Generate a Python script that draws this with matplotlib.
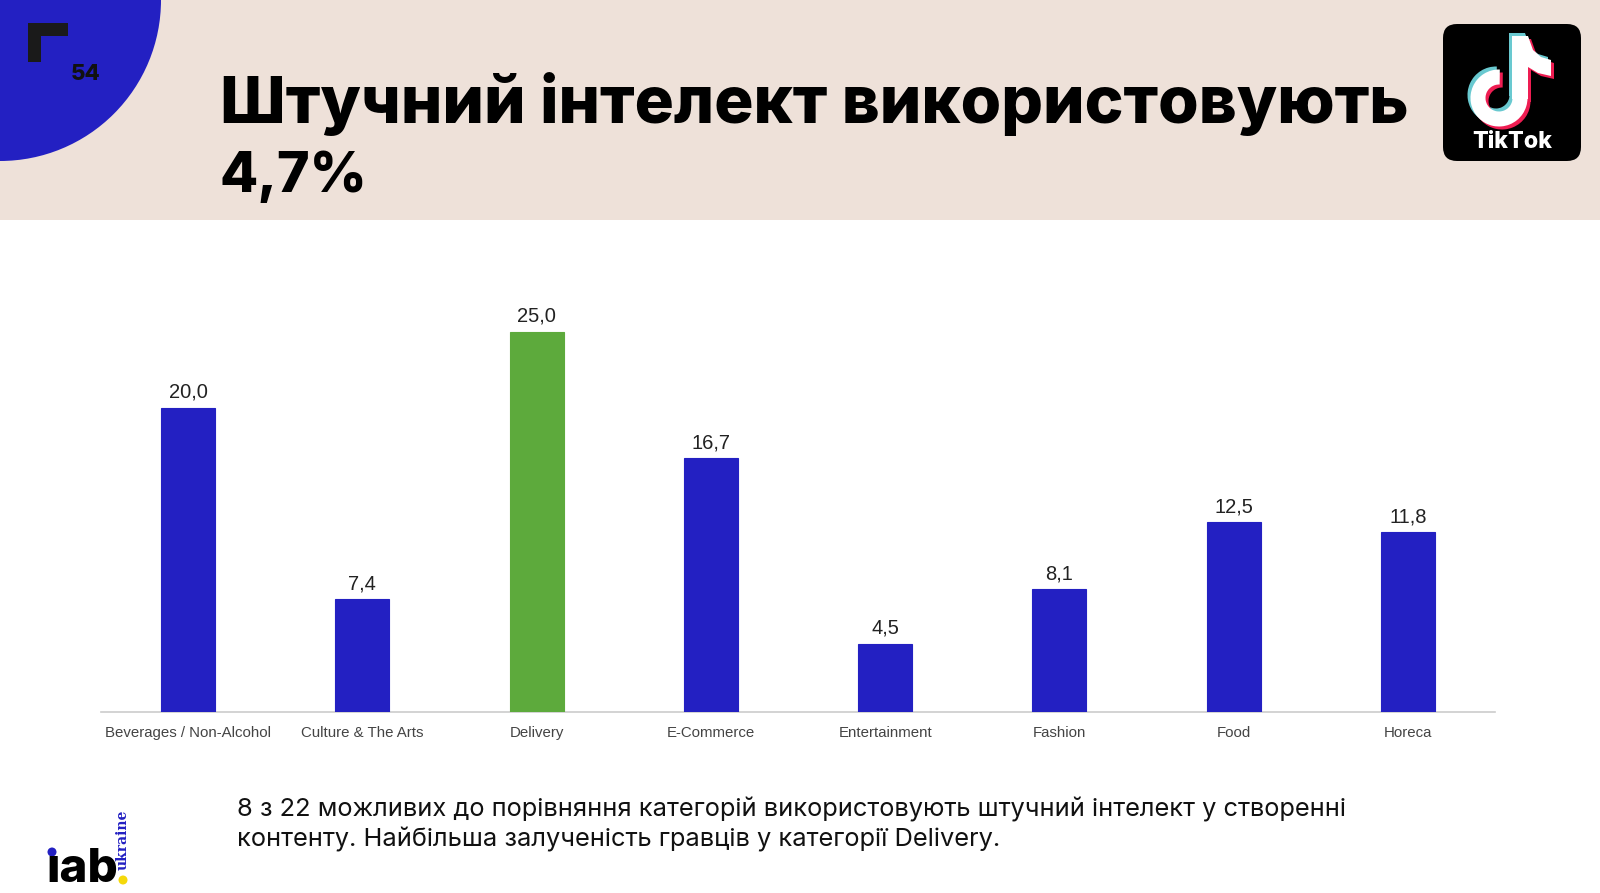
import matplotlib
matplotlib.use("Agg")
import matplotlib.pyplot as plt
from matplotlib.patches import Rectangle, Circle, FancyBboxPatch, Arc, Polygon
import numpy as np

categories = ["Beverages / Non-Alcohol", "Culture & The Arts", "Delivery", "E-Commerce",
              "Entertainment", "Fashion", "Food", "Horeca"]
values = [20.0, 7.4, 25.0, 16.7, 4.5, 8.1, 12.5, 11.8]
highlight = "Delivery"

title_line1 = "Штучний інтелект використовують"
title_line2 = "4,7%"
page_num = "54"
footer_lines = ["8 з 22 можливих до порівняння категорій використовують штучний інтелект у створенні",
                "контенту. Найбільша залученість гравців у категорії Delivery."]

W, H = 1600, 893
DPI = 100
BLUE = "#2320C2"
GREEN = "#5DAA3C"
BEIGE = "#EEE1D9"
HEAD = ["Inter", "DejaVu Sans"]

fig = plt.figure(figsize=(W / DPI, H / DPI), dpi=DPI, facecolor="white")

ov = fig.add_axes([0, 0, 1, 1], zorder=0)
ov.set_xlim(0, W)
ov.set_ylim(H, 0)
ov.set_autoscale_on(False)
ov.axis("off")

ov.add_patch(Rectangle((0, 0), W, 220, facecolor=BEIGE, edgecolor="none"))
ov.add_patch(Circle((0, 0), 161, facecolor=BLUE, edgecolor="none"))
ov.add_patch(Rectangle((28, 23), 40, 13, facecolor="#1a1a1a", edgecolor="none"))
ov.add_patch(Rectangle((28, 23), 13, 39, facecolor="#1a1a1a", edgecolor="none"))
ov.text(71, 80, page_num, fontsize=16, fontweight=800, family=HEAD,
        color="#111111", ha="left", va="baseline")

renderer = fig.canvas.get_renderer()


def fit_text(x, y, s, target_w, size, **kw):
    t = ov.text(x, y, s, fontsize=size, **kw)
    bb = t.get_window_extent(renderer=renderer)
    if bb.width > 0:
        t.set_fontsize(size * target_w / bb.width)
    return t


fit_text(220, 123, title_line1, 1190, 50, fontweight=800, family=HEAD,
         color="black", ha="left", va="baseline")
fit_text(220, 192, title_line2, 148, 50, fontweight=800, family=HEAD,
         color="black", ha="left", va="baseline")

# TikTok logo
ov.add_patch(FancyBboxPatch((1446, 27), 132, 131, boxstyle="round,pad=3,rounding_size=14",
                            facecolor="black", edgecolor="none"))


def note(dx, dy, color):
    ring = 15
    ov.add_patch(Arc((1499 + dx, 98 + dy), 42, 42, theta1=0, theta2=272,
                     linewidth=ring * 0.72, color=color))
    ov.add_patch(Rectangle((1512 + dx, 36 + dy), 16, 63, facecolor=color, edgecolor="none"))
    ov.add_patch(Polygon([[1512 + dx, 36 + dy], [1528 + dx, 36 + dy], [1533 + dx, 50 + dy],
                          [1541 + dx, 57 + dy], [1551 + dx, 60 + dy], [1551 + dx, 76 + dy],
                          [1538 + dx, 73 + dy], [1528 + dx, 67 + dy]],
                         closed=True, facecolor=color, edgecolor="none"))


note(-3, -3, "#69C9D0")
note(3, 3, "#EE1D52")
note(0, 0, "white")
fit_text(1512, 148, "TikTok", 80, 17, fontweight=800, family=HEAD,
         color="white", ha="center", va="baseline")

# iab logo
fit_text(46, 882, "ıab", 72, 30, fontweight=800, family=HEAD,
         color="black", ha="left", va="baseline")
ov.add_patch(Circle((52, 852), 4.5, facecolor=BLUE, edgecolor="none"))
ov.text(123, 840, "ukraine", rotation=90, fontsize=10, fontweight="bold", family="DejaVu Serif",
        color=BLUE, ha="center", va="center")
ov.add_patch(Circle((123, 880), 4.5, facecolor="#F5D90A", edgecolor="none"))

# Footer text
t1 = fit_text(237, 817, footer_lines[0], 1110, 17, fontweight=400, family=HEAD,
              color="#111111", ha="left", va="baseline")
fs = t1.get_fontsize()
ov.text(237, 847, footer_lines[1], fontsize=fs, fontweight=400, family=HEAD,
        color="#111111", ha="left", va="baseline")

# Chart axes
base_y, top_y = 712, 286
left_x, right_x = 101, 1495
ax = fig.add_axes([left_x / W, (H - base_y) / H, (right_x - left_x) / W, (base_y - top_y) / H],
                  zorder=2)
ax.patch.set_alpha(0)
x = np.arange(len(categories))
colors = [GREEN if c == highlight else BLUE for c in categories]
ax.bar(x, values, width=0.31, color=colors, edgecolor=colors, linewidth=0.8, zorder=3)
ax.set_xlim(-0.5, len(categories) - 0.5)
ax.set_ylim(0, 28)
for xi, v in zip(x, values):
    ax.annotate(f"{v:.1f}".replace(".", ","), (xi, v), xytext=(0, 7), textcoords="offset points",
                ha="center", va="baseline", fontsize=14.5, family="Liberation Sans",
                color="#222222")
ax.set_xticks(x)
ax.set_xticklabels(categories, fontsize=10.8, family="Liberation Sans", color="#444444")
ax.tick_params(axis="x", length=0, pad=10)
ax.set_yticks([])
for s in ["top", "right", "left"]:
    ax.spines[s].set_visible(False)
ax.spines["bottom"].set_color("#CCCCCC")
ax.spines["bottom"].set_linewidth(1.2)

fig.savefig("out.png", dpi=DPI, facecolor="white")
